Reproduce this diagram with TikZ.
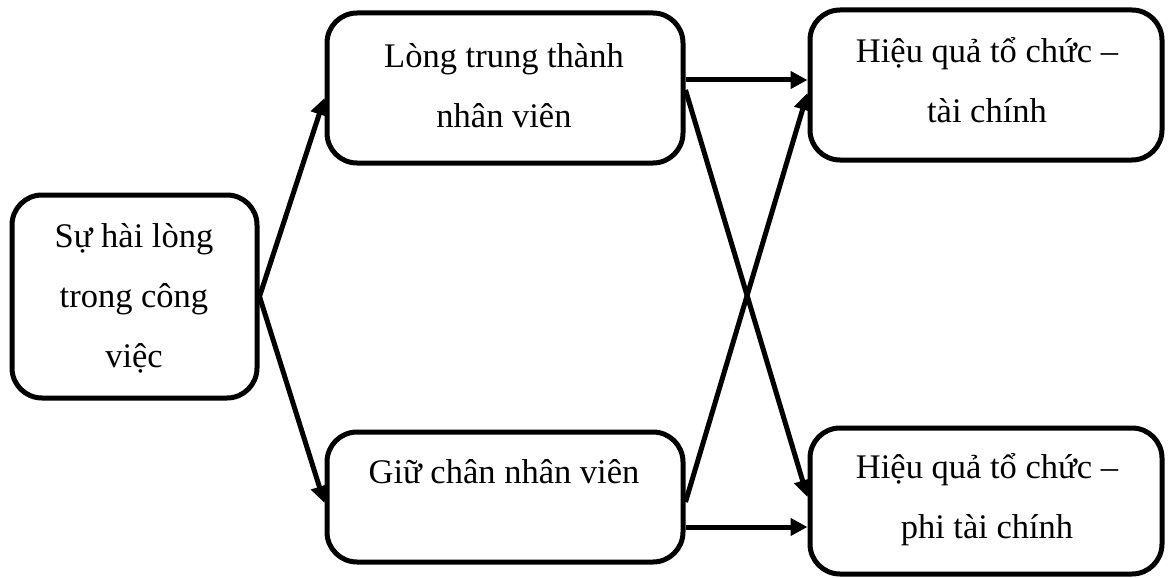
\documentclass[tikz,border=0pt]{standalone}
\usepackage{fontspec}
\setmainfont{Liberation Serif}
\usetikzlibrary{arrows.meta}
\begin{document}
\begin{tikzpicture}[x=1pt,y=-1pt,
  box/.style={draw=black,line width=5pt,rounded corners=30pt,inner sep=0pt},
  lbl/.style={anchor=base,align=center,inner sep=0pt,
    font=\fontsize{34.5}{60}\selectfont},
  arr/.style={line width=5pt,-{Triangle[length=17pt,width=17pt]}}]
\useasboundingbox (0,0) rectangle (1168,578);
% boxes
\node[box,minimum width=245pt,minimum height=203pt] (sat) at (134.5,296.5) {};
\node[box,minimum width=356pt,minimum height=150pt] (loy) at (505,88) {};
\node[box,minimum width=356pt,minimum height=130pt] (ret) at (505,497) {};
\node[box,minimum width=352pt,minimum height=150pt] (fin) at (986,85) {};
\node[box,minimum width=352pt,minimum height=146pt] (nonfin) at (986,501) {};
% labels (base anchor sits on the last line)
\node[lbl] (satT) at (134,367) {Sự hài lòng\\trong công\\việc};
\node[lbl] (loyT) at (504,128) {Lòng trung thành\\nhân viên};
\node[lbl] (retT) at (504,483) {Giữ chân nhân viên};
\node[lbl] (finT) at (987,122) {Hiệu quả tổ chức –\\tài chính};
\node[lbl] (nonfinT) at (987,538) {Hiệu quả tổ chức –\\phi tài chính};
% connectors
\draw[arr] (sat.east) -- ([yshift=-10pt]loy.west);
\draw[arr] (sat.east) -- ([yshift=-6pt]ret.west);
\draw[arr] ([yshift=8pt]loy.east) -- ([yshift=5pt]fin.west);
\draw[arr] ([yshift=-2pt]loy.east) -- ([yshift=4pt]nonfin.west);
\draw[arr] ([yshift=-5pt]ret.east) -- ([yshift=-8pt]fin.west);
\draw[arr] ([yshift=-30pt]ret.east) -- ([yshift=-26pt]nonfin.west);
\end{tikzpicture}
\end{document}
